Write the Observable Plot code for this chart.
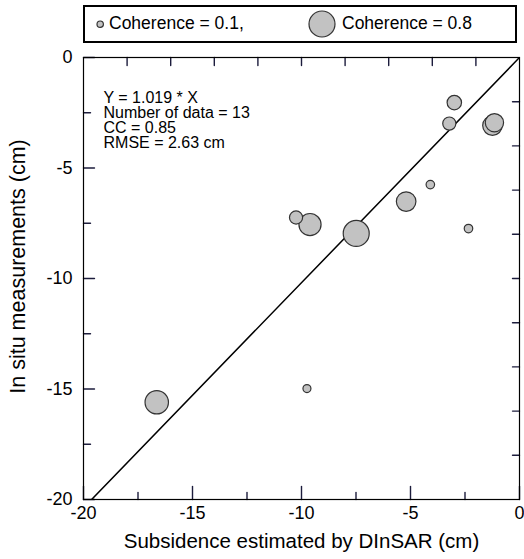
<!DOCTYPE html>
<html>
<head>
<meta charset="utf-8">
<script src="https://cdn.jsdelivr.net/npm/d3@7"></script>
<script src="https://cdn.jsdelivr.net/npm/@observablehq/plot@0.6"></script>
<style>
  html, body { margin: 0; padding: 0; background: #fff; }
  body { width: 524px; height: 559px; overflow: hidden; font-family: "Liberation Sans", Arial, sans-serif; }
  #legendWrap { position: relative; width: 524px; height: 47px; }
  #legendBox { position: absolute; left: 83px; top: 5px; width: 434px; height: 38px; border: 2px solid #000; box-sizing: border-box; }
  .lg { position: absolute; font-size: 17.5px; color: #000; line-height: 1; white-space: nowrap; }
</style>
</head>
<body>
<div id="legendWrap"><div id="legendBox"></div></div>
<div id="chart"></div>
<script>
// ---- data ----
const dinsar    = [-16.64, -9.75, -10.25, -9.61, -7.49, -5.20, -4.09, -2.34, -3.22, -2.99, -1.24, -1.15];
const inSitu    = [-15.60, -14.98, -7.24, -7.56, -7.96, -6.52, -5.75, -7.74, -2.99, -2.04, -3.08, -2.95];
const coherence = [0.70, 0.10, 0.30, 0.65, 0.80, 0.55, 0.12, 0.12, 0.30, 0.35, 0.55, 0.50];
const slope = 1.019;
const statsLines = ["Y = 1.019 * X", "Number of data = 13", "CC = 0.85", "RMSE = 2.63 cm"];
const labelTicks = [-20, -15, -10, -5, 0];
const ticks25 = [-20, -17.5, -15, -12.5, -10, -7.5, -5, -2.5, 0];
const ticks2 = [-18, -16, -14, -12, -10, -8, -6, -4, -2];
const legendCoh = [0.1, 0.8];
const legendText = ["Coherence = 0.1,", "Coherence = 0.8"];
const xLabel = "Subsidence estimated by DInSAR (cm)";
const yLabel = "In situ measurements (cm)";

const points = dinsar.map((x, i) => ({x, y: inSitu[i], c: coherence[i]}));
const fitLine = [-20, 0].map(x => ({x, y: slope * x}));

// layout
const W = 524, H = 512, mT = 10, mB = 60, mL = 83, mR = 5;
const pxX = (W - mL - mR) / 20, pxY = (H - mT - mB) / 20;
const font = "Liberation Sans, Arial, sans-serif";
const isMajor = v => v % 5 === 0;

// inward tick segments (two points each), lengths in pixels converted to data units
const tickSegs = [];
ticks25.forEach(v => {
  const lb = (isMajor(v) ? 13 : 7) / pxY, ll = (isMajor(v) ? 11 : 7) / pxX;
  tickSegs.push({id: "b" + v, x: v, y: -20}, {id: "b" + v, x: v, y: -20 + lb});
  tickSegs.push({id: "l" + v, x: -20, y: v}, {id: "l" + v, x: -20 + ll, y: v});
});
ticks2.forEach(v => {
  tickSegs.push({id: "t" + v, x: v, y: 0}, {id: "t" + v, x: v, y: -8 / pxY});
  tickSegs.push({id: "r" + v, x: 0, y: v}, {id: "r" + v, x: -7 / pxX, y: v});
});

const plot = Plot.plot({
  width: W, height: H,
  marginTop: mT, marginBottom: mB, marginLeft: mL, marginRight: mR,
  style: {fontFamily: font, fontSize: "18px", color: "#000", background: "#fff"},
  x: {domain: [-20, 0]},
  y: {domain: [-20, 0]},
  r: {type: "linear", domain: [0.1, 0.8], range: [4, 13]},
  marks: [
    Plot.line(tickSegs, {x: "x", y: "y", z: "id", stroke: "#1c1c3c", strokeWidth: 1.4}),
    Plot.axisX({anchor: "bottom", ticks: labelTicks, tickSize: 0, tickPadding: 7, label: null, fontSize: 18, tickFormat: d => String(d)}),
    Plot.axisY({anchor: "left", ticks: labelTicks, tickSize: 0, tickPadding: 11, label: null, fontSize: 18, tickFormat: d => String(d)}),
    Plot.text([xLabel], {frameAnchor: "bottom", dy: 42, fontSize: 20.5, lineAnchor: "middle", textAnchor: "middle", fill: "#000"}),
    Plot.text([yLabel], {frameAnchor: "left", dx: -65, dy: -12, rotate: -90, fontSize: 21.5, lineAnchor: "middle", textAnchor: "middle", fill: "#000"}),
    // regression line
    Plot.line(fitLine, {x: "x", y: "y", stroke: "#000", strokeWidth: 1.5, clip: true}),
    // points
    Plot.dot(points, {x: "x", y: "y", r: "c", fill: "#c2c2c2", stroke: "#333", strokeWidth: 1.2}),
    // stats text
    Plot.text([statsLines.join("\n")], {frameAnchor: "top-left", dx: 20, dy: 35, lineAnchor: "top", lineHeight: 0.94, fontSize: 16, textAnchor: "start", fill: "#000"}),
    Plot.frame({stroke: "#000", strokeWidth: 1.2})
  ]
});
document.getElementById("chart").appendChild(plot);

// legend (HTML above the SVG), circle sizes from the plot's r scale
const rs = plot.scale("r");
const box = document.getElementById("legendBox");
const circleX = [15, 237];
const textX = [24, 257];
legendCoh.forEach((c, i) => {
  const r = Math.max(3, rs.apply(c) * (i === 0 ? 0.8 : 1));
  const s = document.createElementNS("http://www.w3.org/2000/svg", "svg");
  s.setAttribute("width", 2 * r + 4); s.setAttribute("height", 2 * r + 4);
  s.style.position = "absolute";
  s.style.left = (circleX[i] - r - 2) + "px";
  s.style.top = (17 - r - 2) + "px";
  const ci = document.createElementNS("http://www.w3.org/2000/svg", "circle");
  ci.setAttribute("cx", r + 2); ci.setAttribute("cy", r + 2); ci.setAttribute("r", r);
  ci.setAttribute("fill", "#c2c2c2"); ci.setAttribute("stroke", "#333"); ci.setAttribute("stroke-width", 1.2);
  s.appendChild(ci);
  box.appendChild(s);
  const t = document.createElement("div");
  t.className = "lg";
  t.textContent = legendText[i];
  t.style.left = textX[i] + "px";
  t.style.top = "8px";
  box.appendChild(t);
});
</script>
</body>
</html>
